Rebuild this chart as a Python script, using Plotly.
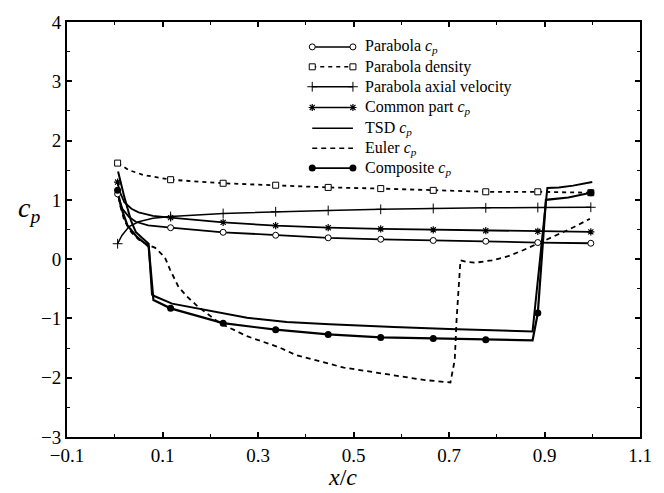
import plotly.graph_objects as go

# ---------------- data ----------------
MARK_X = [0.006, 0.117, 0.227, 0.337, 0.447, 0.557, 0.667, 0.777, 0.886, 0.997]

# Parabola cp
par_cp_x = [0.006, 0.016, 0.03, 0.044, 0.07, 0.117, 0.227, 0.337, 0.447, 0.557, 0.667, 0.777, 0.886, 0.997]
par_cp_y = [1.10, 0.85, 0.71, 0.63, 0.57, 0.53, 0.453, 0.403, 0.36, 0.335, 0.315, 0.302, 0.28, 0.268]
par_cp_mk = [1.10, 0.53, 0.453, 0.403, 0.36, 0.335, 0.315, 0.302, 0.28, 0.268]

# Parabola density
dens_x = [0.006, 0.03, 0.06, 0.117, 0.227, 0.337, 0.447, 0.557, 0.667, 0.777, 0.886, 0.997]
dens_y = [1.62, 1.50, 1.42, 1.34, 1.28, 1.247, 1.21, 1.19, 1.16, 1.136, 1.136, 1.12]
dens_mk = [1.62, 1.34, 1.28, 1.247, 1.21, 1.19, 1.16, 1.136, 1.136, 1.12]

# Parabola axial velocity
axv_x = [0.006, 0.015, 0.03, 0.05, 0.08, 0.117, 0.227, 0.337, 0.447, 0.557, 0.667, 0.777, 0.886, 0.997]
axv_y = [0.26, 0.40, 0.55, 0.63, 0.69, 0.72, 0.77, 0.80, 0.82, 0.84, 0.855, 0.865, 0.87, 0.875]
axv_mk = [0.26, 0.72, 0.77, 0.80, 0.82, 0.84, 0.855, 0.865, 0.87, 0.875]

# Common part cp
com_x = [0.006, 0.01, 0.02, 0.035, 0.05, 0.08, 0.117, 0.194, 0.227, 0.337, 0.447, 0.557, 0.667, 0.777, 0.886, 0.997]
com_y = [1.30, 1.15, 0.96, 0.85, 0.79, 0.73, 0.70, 0.65, 0.62, 0.565, 0.53, 0.51, 0.495, 0.48, 0.47, 0.46]
com_mk = [1.30, 0.70, 0.62, 0.565, 0.53, 0.51, 0.495, 0.48, 0.47, 0.46]

# TSD cp
tsd_x = [0.007, 0.02, 0.034, 0.044, 0.057, 0.071, 0.078, 0.085, 0.12, 0.22, 0.277, 0.36, 0.45, 0.584, 0.70, 0.875, 0.906, 0.93, 0.96, 1.0]
tsd_y = [1.48, 1.05, 0.65, 0.46, 0.36, 0.26, -0.60, -0.63, -0.75, -0.91, -0.99, -1.06, -1.10, -1.145, -1.18, -1.22, 1.20, 1.21, 1.24, 1.30]

# Euler cp
eul_x = [0.005, 0.01, 0.02, 0.035, 0.05, 0.07, 0.085, 0.105, 0.116, 0.133, 0.15, 0.174, 0.22, 0.277, 0.345, 0.38, 0.48, 0.58, 0.65, 0.703,
         0.712, 0.716, 0.72, 0.724, 0.74, 0.755, 0.79, 0.824, 0.855, 0.886, 0.92, 0.954, 0.995]
eul_y = [1.20, 0.95, 0.65, 0.45, 0.33, 0.24, 0.19, 0.03, -0.18, -0.46, -0.62, -0.80, -1.08, -1.30, -1.49, -1.62, -1.83, -1.96, -2.04, -2.08,
         -1.70, -1.00, -0.50, -0.02, -0.05, -0.06, -0.02, 0.05, 0.15, 0.26, 0.38, 0.51, 0.68]

# Composite cp
cmp_x = [0.006, 0.013, 0.0265, 0.047, 0.064, 0.071, 0.081, 0.117, 0.227, 0.337, 0.447, 0.557, 0.667, 0.777, 0.875, 0.886, 0.903, 0.95, 0.997]
cmp_y = [1.16, 0.88, 0.57, 0.37, 0.26, 0.21, -0.69, -0.83, -1.08, -1.19, -1.27, -1.32, -1.337, -1.36, -1.37, -0.91, 1.00, 1.04, 1.12]
cmp_mk = [1.16, -0.83, -1.08, -1.19, -1.27, -1.32, -1.337, -1.36, -0.91, 1.12]

X_TICKS = [-0.1, 0.1, 0.3, 0.5, 0.7, 0.9, 1.1]
X_TICKTEXT = ["−0.1", "0.1", "0.3", "0.5", "0.7", "0.9", "1.1"]
X_MINOR = [0.0, 0.2, 0.4, 0.6, 0.8, 1.0]
Y_TICKS = [-3, -2, -1, 0, 1, 2, 3, 4]
Y_MINOR = [-2.5, -1.5, -0.5, 0.5, 1.5, 2.5, 3.5]

CP = "<i>c</i><sub><i>p</i></sub>"
LEG_LABELS = ["Parabola " + CP, "Parabola density", "Parabola axial velocity",
              "Common part " + CP, "TSD " + CP, "Euler " + CP, "Composite " + CP]

# ---------------- styles ----------------
K = "black"
SERIF = "Liberation Serif"
series = [
    dict(x=par_cp_x, y=par_cp_y, mk=par_cp_mk, dash="solid", w=1.8,
         marker=dict(symbol="circle", size=6, color="white", line=dict(color=K, width=1))),
    dict(x=dens_x, y=dens_y, mk=dens_mk, dash="4px,4px", w=1.8,
         marker=dict(symbol="square", size=6, color="white", line=dict(color=K, width=1))),
    dict(x=axv_x, y=axv_y, mk=axv_mk, dash="solid", w=1.5,
         marker=dict(symbol="cross-thin-open", size=7, color=K, line=dict(color=K, width=1))),
    dict(x=com_x, y=com_y, mk=com_mk, dash="solid", w=1.8,
         marker=dict(symbol="asterisk-open", size=6, color=K, line=dict(color=K, width=1.2))),
    dict(x=tsd_x, y=tsd_y, mk=None, dash="solid", w=2.0, marker=None),
    dict(x=eul_x, y=eul_y, mk=None, dash="5px,4px", w=1.8, marker=None),
    dict(x=cmp_x, y=cmp_y, mk=cmp_mk, dash="solid", w=2.2,
         marker=dict(symbol="circle", size=7, color=K, line=dict(color=K, width=0))),
]

fig = go.Figure()
for s in series:
    fig.add_trace(go.Scatter(x=s["x"], y=s["y"], mode="lines",
                             line=dict(color=K, width=s["w"], dash=s["dash"]),
                             showlegend=False, hoverinfo="skip"))
for s in series:
    if s["mk"] is not None:
        fig.add_trace(go.Scatter(x=MARK_X, y=s["mk"], mode="markers", marker=s["marker"],
                                 showlegend=False, hoverinfo="skip"))

# ---------------- custom legend on overlay axes ----------------
leg_x0, leg_x1, leg_tx = 0.428, 0.499, 0.517
leg_rows = [0.940, 0.892, 0.844, 0.794, 0.744, 0.696, 0.648]
for s, ry, lab in zip(series, leg_rows, LEG_LABELS):
    fig.add_trace(go.Scatter(x=[leg_x0, leg_x1], y=[ry, ry], xaxis="x2", yaxis="y2",
                             mode="lines", line=dict(color=K, width=s["w"] * 0.85, dash=s["dash"]),
                             showlegend=False, hoverinfo="skip"))
    if s["marker"] is not None:
        fig.add_trace(go.Scatter(x=[leg_x0, leg_x1], y=[ry, ry], xaxis="x2", yaxis="y2",
                                 mode="markers", marker=s["marker"],
                                 showlegend=False, hoverinfo="skip"))
    fig.add_annotation(x=leg_tx, y=ry, xref="paper", yref="paper", text=lab,
                       showarrow=False, xanchor="left", yanchor="middle",
                       font=dict(family=SERIF, size=16, color=K))

axis_common = dict(showgrid=False, zeroline=False, showline=True, linecolor=K, linewidth=2,
                   mirror="allticks", ticks="inside", ticklen=5, tickwidth=1.5, tickcolor=K,
                   tickfont=dict(family=SERIF, size=19, color=K))

fig.update_layout(
    width=664, height=493,
    margin=dict(l=67, r=13, t=20, b=56),
    paper_bgcolor="white", plot_bgcolor="white",
    showlegend=False,
    xaxis=dict(range=[-0.1, 1.1], tickvals=X_TICKS, ticktext=X_TICKTEXT,
               minor=dict(tickvals=X_MINOR, ticks="inside", ticklen=3, tickwidth=1.2, tickcolor=K),
               **axis_common),
    yaxis=dict(range=[-3, 4], tickvals=Y_TICKS,
               minor=dict(tickvals=Y_MINOR, ticks="inside", ticklen=3, tickwidth=1.2, tickcolor=K),
               **axis_common),
    xaxis2=dict(overlaying="x", range=[0, 1], visible=False),
    yaxis2=dict(overlaying="y", range=[0, 1], visible=False, anchor="x2"),
)

fig.add_annotation(x=-0.066, y=0.548, xref="paper", yref="paper", text=CP, showarrow=False,
                   xanchor="center", yanchor="middle",
                   font=dict(family=SERIF, size=28, color=K))
fig.add_annotation(x=0.48, y=-0.097, xref="paper", yref="paper", text="<i>x</i>/<i>c</i>", showarrow=False,
                   xanchor="center", yanchor="middle",
                   font=dict(family=SERIF, size=24, color=K))

fig.write_html("out.html")
